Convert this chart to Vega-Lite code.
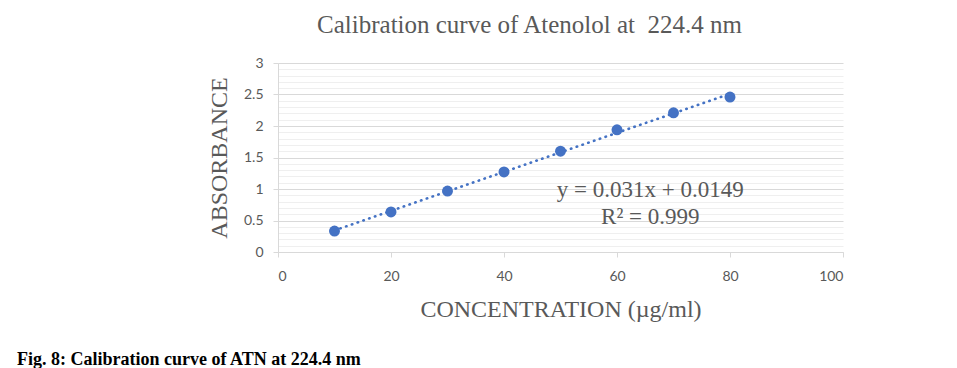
{
  "$schema": "https://vega.github.io/schema/vega-lite/v6.json",
  "width": 565,
  "height": 189,
  "autosize": {"type": "none"},
  "padding": {"left": 278, "top": 63, "right": 114, "bottom": 116},
  "background": "white",
  "title": {
    "text": "Fig. 8: Calibration curve of ATN at 224.4 nm",
    "orient": "bottom",
    "anchor": "start",
    "frame": "group",
    "dx": -261,
    "offset": 30,
    "font": "Liberation Serif",
    "fontSize": 18,
    "fontWeight": "bold",
    "color": "#000000"
  },
  "config": {
    "view": {"stroke": null},
    "axis": {
      "labelFont": "Lato",
      "labelFontSize": 14,
      "labelColor": "#595959",
      "titleFont": "Liberation Serif",
      "titleFontWeight": "normal",
      "titleColor": "#595959",
      "domainColor": "#d9d9d9",
      "tickColor": "#d9d9d9",
      "gridColor": "#d9d9d9"
    }
  },
  "data": {
    "values": [
      {"conc": 10, "abs": 0.333},
      {"conc": 20, "abs": 0.635},
      {"conc": 30, "abs": 0.968},
      {"conc": 40, "abs": 1.27},
      {"conc": 50, "abs": 1.6},
      {"conc": 60, "abs": 1.94},
      {"conc": 70, "abs": 2.21},
      {"conc": 80, "abs": 2.46}
    ]
  },
  "layer": [
    {
      "transform": [{"regression": "abs", "on": "conc", "method": "linear"}],
      "mark": {"type": "line", "color": "#4472c4", "strokeWidth": 2.6, "strokeDash": [0.5, 5.6], "strokeCap": "round"},
      "encoding": {
        "x": {
          "field": "conc", "type": "quantitative",
          "scale": {"domain": [0, 100], "nice": false, "zero": false},
          "axis": {
            "orient": "top", "labels": false, "ticks": false, "domain": false, "grid": false,
            "title": "Calibration curve of Atenolol at\u00a0 224.4 nm",
            "titleFontSize": 25, "titleX": 251, "titleY": -31, "titleAlign": "center", "titleBaseline": "alphabetic"
          }
        },
        "y": {
          "field": "abs", "type": "quantitative",
          "scale": {"domain": [0, 3], "nice": false},
          "axis": {
            "orient": "right", "labels": false, "ticks": false, "domain": false, "title": null,
            "values": [0.1,0.2,0.3,0.4,0.6,0.7,0.8,0.9,1.1,1.2,1.3,1.4,1.6,1.7,1.8,1.9,2.1,2.2,2.3,2.4,2.6,2.7,2.8,2.9],
            "grid": true, "gridColor": "#efefef"
          }
        }
      }
    },
    {
      "mark": {"type": "point", "filled": true, "opacity": 1, "color": "#4472c4", "size": 120},
      "encoding": {
        "x": {
          "field": "conc", "type": "quantitative",
          "axis": {
            "orient": "bottom", "values": [0, 20, 40, 60, 80, 100], "grid": false,
            "tickSize": 5, "labelPadding": 12,
            "title": "CONCENTRATION (µg/ml)", "titleFontSize": 24, "titlePadding": 14
          }
        },
        "y": {
          "field": "abs", "type": "quantitative",
          "axis": {
            "orient": "left", "values": [0, 0.5, 1, 1.5, 2, 2.5, 3], "format": "~g", "grid": true,
            "tickSize": 5, "labelPadding": 10,
            "title": "ABSORBANCE", "titleFontSize": 24, "titlePadding": 12
          }
        }
      }
    },
    {
      "data": {"values": [{}]},
      "mark": {
        "type": "text",
        "text": ["y = 0.031x + 0.0149", "R² = 0.999"],
        "font": "Liberation Serif", "fontSize": 23, "color": "#595959",
        "align": "center", "baseline": "middle", "lineHeight": 27
      },
      "encoding": {
        "x": {"datum": 65.9, "type": "quantitative", "axis": null},
        "y": {"datum": 0.99, "type": "quantitative", "axis": null}
      }
    }
  ],
  "resolve": {"axis": {"x": "independent", "y": "independent"}}
}
